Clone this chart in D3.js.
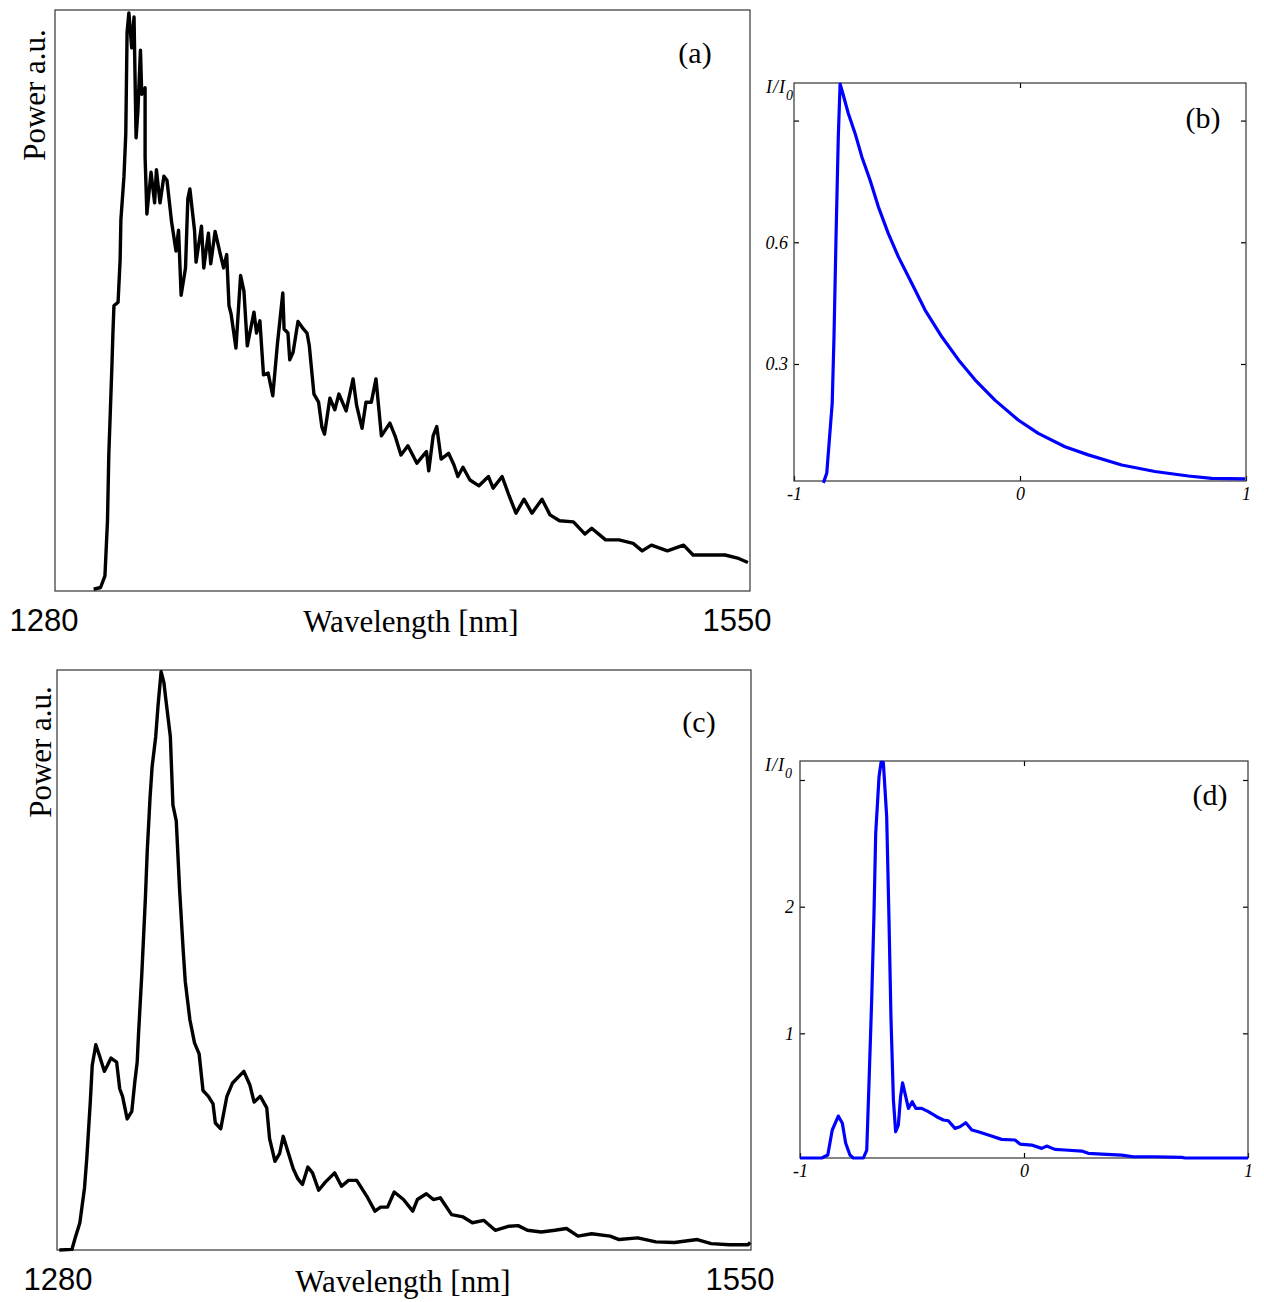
<!DOCTYPE html>
<html>
<head>
<meta charset="utf-8">
<script src="https://cdn.jsdelivr.net/npm/d3@7"></script>
<style>
  body { margin: 0; background: #fff; }
  svg { display: block; }
  .frame { fill: none; stroke: #333; stroke-width: 1.2; }
  .spec { fill: none; stroke: #000; stroke-width: 3.4; stroke-linejoin: round; }
  .inten { fill: none; stroke: #0000ff; stroke-width: 3.2; stroke-linejoin: round; }
  .serif { font-family: "Liberation Serif", "Times New Roman", serif; }
  .sans { font-family: "Liberation Sans", Arial, sans-serif; }
  .tick line { stroke: #000; stroke-width: 1.2; }
  .tick text { font-family: "Liberation Serif", serif; font-style: italic; font-size: 18px; fill: #000; }
</style>
</head>
<body>
<svg id="chart" width="1264" height="1302"></svg>
<script>
"use strict";

// (a) spectrum, wavelength in nm, power in a.u. (0..100)
const aWavelength = [1295.0,1297.7,1299.4,1300.4,1300.9,1302.1,1302.5,1302.9,1304.5,1305.3,1305.6,1306.8,1307.5,1308.0,1308.7,1309.8,1310.7,1311.5,1312.2,1313.2,1313.7,1315.0,1315.0,1315.7,1317.3,1318.7,1319.4,1320.8,1322.3,1323.5,1325.3,1327.0,1328.0,1329.0,1330.7,1331.6,1332.4,1334.2,1334.8,1336.9,1337.8,1339.6,1340.5,1342.2,1344.1,1345.5,1346.7,1347.6,1348.4,1350.3,1352.1,1353.4,1354.7,1357.3,1358.3,1359.6,1361.0,1362.8,1364.6,1366.4,1368.5,1369.0,1370.5,1371.2,1372.5,1374.4,1376.5,1377.9,1378.8,1380.6,1382.4,1383.7,1384.7,1386.8,1388.7,1390.3,1393.1,1395.8,1397.2,1399.3,1400.8,1402.9,1404.7,1406.8,1410.1,1412.1,1414.4,1417.1,1420.6,1424.3,1425.2,1426.9,1428.3,1430.0,1432.9,1435.0,1436.5,1438.5,1441.2,1444.7,1448.4,1450.2,1453.7,1456.4,1459.1,1462.2,1465.3,1469.2,1472.3,1476.0,1481.4,1485.9,1488.5,1493.9,1499.1,1504.6,1508.1,1511.7,1517.9,1524.2,1527.9,1534.9,1540.3,1545.6,1549.2];
const aPower = [0.3,0.6,2.6,12.2,23.4,38.6,44.4,49.1,49.7,57.0,63.9,71.4,78.7,96.1,99.5,93.5,98.8,78.0,82.6,93.1,85.5,86.6,74.7,64.9,72.1,66.8,72.5,66.8,71.4,70.7,63.5,58.5,62.1,50.9,55.6,67.5,69.2,62.1,56.6,62.8,55.6,61.6,56.3,61.9,58.2,55.6,57.9,49.1,47.7,41.8,54.3,51.6,42.2,48.0,44.4,46.5,37.2,37.5,33.6,42.5,51.3,45.1,44.4,39.8,41.1,46.4,45.1,44.4,42.2,33.9,32.5,28.2,27.0,33.2,31.2,33.9,31.0,36.5,31.9,28.0,32.5,32.5,36.5,26.7,28.9,26.7,23.4,25.0,22.0,24.0,20.7,26.7,28.3,22.7,23.7,21.7,19.7,21.3,19.1,18.1,19.7,17.7,19.7,16.4,13.4,15.8,13.4,15.8,13.1,12.1,11.9,9.8,10.8,8.8,8.8,8.2,6.9,7.9,6.9,7.9,6.2,6.2,6.2,5.6,4.9];

// (c) spectrum
const cWavelength = [1280.9,1285.8,1287.1,1288.9,1290.7,1291.6,1293.0,1293.7,1295.1,1296.6,1298.4,1299.6,1301.0,1303.2,1304.4,1305.5,1307.3,1309.1,1310.3,1311.2,1311.7,1313.0,1314.4,1315.1,1316.2,1317.0,1318.4,1319.3,1320.5,1321.6,1322.3,1324.1,1325.1,1326.4,1327.7,1329.1,1329.9,1331.7,1333.5,1335.3,1336.8,1338.9,1340.7,1341.6,1343.7,1346.1,1348.3,1350.5,1352.7,1355.0,1356.7,1359.1,1361.6,1362.7,1364.8,1366.6,1368.0,1370.1,1371.9,1373.7,1375.5,1377.6,1379.4,1381.8,1384.4,1388.0,1390.7,1393.4,1396.6,1400.5,1403.7,1405.9,1408.6,1411.2,1414.8,1418.4,1420.2,1423.7,1426.4,1429.1,1433.5,1438.0,1441.6,1446.1,1450.5,1455.9,1459.4,1463.0,1468.4,1473.7,1478.2,1482.7,1488.0,1495.2,1498.7,1505.9,1513.0,1520.2,1529.1,1534.5,1541.6,1548.8,1549.7];
const cPower = [0.0,0.1,2.1,4.7,10.7,15.9,25.9,31.8,35.4,33.4,30.8,31.8,33.1,32.4,27.8,26.5,22.6,23.9,29.1,32.4,37.1,47.6,60.8,68.7,78.0,83.3,88.5,93.8,99.7,97.8,95.1,88.5,76.7,74.0,62.1,51.6,46.3,39.7,35.7,33.8,27.5,26.5,25.2,21.9,20.9,26.5,28.8,29.8,30.8,28.5,25.5,26.5,24.5,19.2,15.3,16.6,19.6,16.6,14.0,12.3,11.3,14.3,13.3,10.3,11.7,13.3,11.0,12.0,12.0,9.3,6.7,7.4,7.4,10.0,8.7,6.7,8.7,9.7,8.7,9.0,6.1,5.7,4.7,5.1,3.4,4.1,4.2,3.4,3.1,3.4,3.7,2.4,2.8,2.4,1.8,2.1,1.4,1.3,1.8,1.1,0.9,0.9,1.3];

// (b) intensity profile
const bX = [-0.870,-0.855,-0.831,-0.823,-0.814,-0.804,-0.796,-0.782,-0.760,-0.730,-0.700,-0.664,-0.627,-0.583,-0.538,-0.479,-0.420,-0.346,-0.272,-0.199,-0.111,-0.008,0.081,0.199,0.302,0.450,0.597,0.745,0.848,0.996];
const bY = [0.007,0.031,0.203,0.367,0.614,0.860,0.990,0.963,0.918,0.869,0.811,0.754,0.688,0.622,0.564,0.499,0.433,0.367,0.310,0.261,0.211,0.162,0.129,0.096,0.076,0.051,0.035,0.024,0.018,0.017];

// (d) intensity profile
const dX = [-1.0,-0.903,-0.876,-0.856,-0.829,-0.811,-0.796,-0.777,-0.762,-0.717,-0.702,-0.692,-0.680,-0.670,-0.662,-0.647,-0.638,-0.628,-0.613,-0.603,-0.594,-0.583,-0.573,-0.561,-0.551,-0.542,-0.528,-0.516,-0.499,-0.483,-0.457,-0.427,-0.390,-0.360,-0.338,-0.308,-0.286,-0.260,-0.233,-0.204,-0.159,-0.100,-0.040,-0.018,0.034,0.079,0.101,0.138,0.183,0.258,0.287,0.347,0.436,0.488,0.585,0.704,0.719,1.0];
const dY = [0.016,0.016,0.04,0.237,0.347,0.29,0.132,0.04,0.016,0.016,0.079,0.605,1.263,1.92,2.58,3.03,3.14,3.14,2.71,1.92,1.13,0.474,0.223,0.276,0.5,0.61,0.5,0.408,0.46,0.408,0.408,0.382,0.342,0.316,0.31,0.25,0.263,0.294,0.237,0.223,0.197,0.163,0.158,0.126,0.118,0.092,0.11,0.084,0.079,0.071,0.053,0.047,0.039,0.026,0.026,0.021,0.016,0.016];

const svg = d3.select("#chart");

function drawSpectrum(p) {
	let g = svg.append("g").attr("transform", `translate(${p.left}, ${p.top})`);
	let x = d3.scaleLinear().domain([1280, 1550]).range([0, p.w]);
	let y = d3.scaleLinear().domain([0, 100]).range([p.h, 0]);
	g.append("rect").classed("frame", true).attr("width", p.w).attr("height", p.h);
	let line = d3.line().x(d => x(d[0])).y(d => y(d[1]));
	g.append("path").classed("spec", true)
		.datum(d3.zip(p.xs, p.ys))
		.attr("d", line);
	// wavelength end labels (sit slightly off the frame corners)
	g.selectAll(".wl").data([1280, 1550]).enter()
		.append("text").classed("sans", true)
		.attr("x", (d, i) => x(d) + p.tickdx[i])
		.attr("y", p.h + p.labely)
		.attr("text-anchor", "middle")
		.attr("font-size", 31)
		.text(d => d);
	g.append("text").classed("serif", true)
		.attr("x", p.xlabx).attr("y", p.h + p.xlaby)
		.attr("text-anchor", "middle").attr("font-size", 31)
		.text("Wavelength [nm]");
	g.append("text").classed("serif", true)
		.attr("transform", `translate(${p.ylabx}, ${p.ylaby}) rotate(-90)`)
		.attr("text-anchor", "middle").attr("font-size", 31)
		.text("Power a.u.");
	g.append("text").classed("serif", true)
		.attr("x", p.tagx).attr("y", p.tagy)
		.attr("text-anchor", "middle").attr("font-size", 30)
		.text(p.tag);
}

function drawIntensity(p) {
	let g = svg.append("g").attr("transform", `translate(${p.left}, ${p.top})`);
	let x = d3.scaleLinear().domain([-1, 1]).range([0, p.w]);
	let y = d3.scaleLinear().domain(p.ydom).range([p.h, 0]);
	let fmt = d => p.ylabels.indexOf(d) >= 0 ? d : "";

	g.append("g").attr("transform", `translate(0, ${p.h})`)
		.call(d3.axisBottom(x).tickValues([-1, 0, 1]).tickSize(-5).tickPadding(6).tickFormat(d => d));
	g.append("g").call(d3.axisTop(x).tickValues([0]).tickSize(-5).tickFormat(""));
	g.append("g").call(d3.axisLeft(y).tickValues(p.yticks).tickSize(-5).tickPadding(6).tickFormat(fmt));
	g.append("g").attr("transform", `translate(${p.w}, 0)`)
		.call(d3.axisRight(y).tickValues(p.yticks).tickSize(-5).tickFormat(""));
	g.selectAll(".domain").remove();
	g.append("rect").classed("frame", true).attr("width", p.w).attr("height", p.h);

	let line = d3.line().x(d => x(d[0])).y(d => y(d[1]));
	g.append("path").classed("inten", true)
		.datum(d3.zip(p.xs, p.ys))
		.attr("d", line);

	let lab = g.append("text").classed("serif", true)
		.attr("x", p.ilabx).attr("y", p.ilaby)
		.attr("font-style", "italic").attr("font-size", 18)
		.attr("letter-spacing", 1);
	lab.append("tspan").text("I/I");
	lab.append("tspan").attr("dy", 7).attr("font-size", 14).text("0");

	g.append("text").classed("serif", true)
		.attr("x", p.tagx).attr("y", p.tagy)
		.attr("text-anchor", "middle").attr("font-size", 30)
		.text(p.tag);
}

drawSpectrum({
	left: 55, top: 10, w: 695, h: 581,
	xs: aWavelength, ys: aPower,
	tickdx: [-11, -13], labely: 40,
	xlabx: 356, xlaby: 41,
	ylabx: -10, ylaby: 85,
	tag: "(a)", tagx: 640, tagy: 53
});

drawSpectrum({
	left: 57, top: 670, w: 694, h: 580,
	xs: cWavelength, ys: cPower,
	tickdx: [1, -11], labely: 40,
	xlabx: 346, xlaby: 42,
	ylabx: -6, ylaby: 82,
	tag: "(c)", tagx: 642, tagy: 62
});

drawIntensity({
	left: 794, top: 83, w: 452, h: 398,
	xs: bX, ys: bY,
	ydom: [0.0116, 0.9926], yticks: [0.3, 0.6, 0.9], ylabels: [0.3, 0.6],
	ilabx: -28, ilaby: 10,
	tag: "(b)", tagx: 409, tagy: 45
});

drawIntensity({
	left: 800, top: 761, w: 448, h: 397,
	xs: dX, ys: dY,
	ydom: [0.016, 3.15], yticks: [1, 2, 3], ylabels: [1, 2],
	ilabx: -35, ilaby: 10,
	tag: "(d)", tagx: 410, tagy: 44
});
</script>
</body>
</html>
